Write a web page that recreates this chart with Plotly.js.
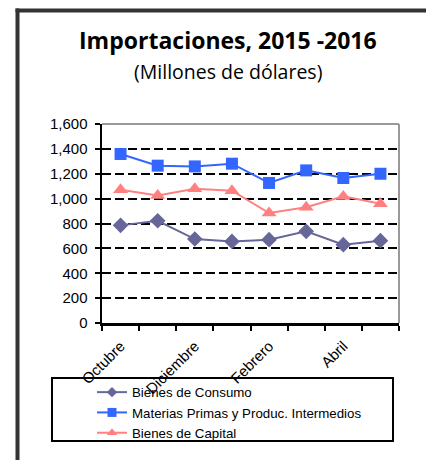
<!DOCTYPE html>
<html>
<head>
<meta charset="utf-8">
<script src="https://cdn.plot.ly/plotly-3.0.1.min.js"></script>
<style>html,body{margin:0;padding:0;background:#fff;}#chart{width:426px;height:460px;}</style>
</head>
<body>
<div id="chart"></div>
<script>
var months = ["Octubre","Noviembre","Diciembre","Enero","Febrero","Marzo","Abril","Mayo"];
var tickLabels = ["Octubre","","Diciembre","","Febrero","","Abril",""];
var bienesConsumo = [785, 822, 675, 656, 670, 737, 630, 662];
var materiasPrimas = [1359, 1265, 1259, 1281, 1126, 1227, 1166, 1200];
var bienesCapital = [1072, 1026, 1080, 1064, 884, 930, 1018, 959];
var seriesNames = ["Bienes de Consumo","Materias Primas y Produc. Intermedios","Bienes de Capital"];
var yTicks = [0,200,400,600,800,1000,1200,1400,1600];

var W = 426, H = 460, L = 102, R = 27, T = 124, B = 137;
var pw = W - L - R, ph = H - T - B;
function px(x){ return (x - L) / pw; }
function py(y){ return (H - B - y) / ph; }

var colors = ["#666699", "#3366FF", "#FF8080"];
var symbols = ["diamond", "square", "triangle-up"];
var sizes = [12, 12, 13];
var legendSizes = [8, 9, 9];
var values = [bienesConsumo, materiasPrimas, bienesCapital];

var traces = [];
for (var i = 0; i < 3; i++) {
  traces.push({x: months, y: values[i], name: seriesNames[i], type: "scatter", mode: "lines+markers",
    showlegend: false, line: {color: colors[i], width: 2},
    marker: {symbol: symbols[i], size: sizes[i], color: colors[i]}});
}
for (var j = 0; j < 3; j++) {
  traces.push({x: [null], y: [null], name: seriesNames[j], type: "scatter", mode: "lines+markers",
    showlegend: true, line: {color: colors[j], width: 2},
    marker: {symbol: symbols[j], size: legendSizes[j], color: colors[j]}});
}

var layout = {
  width: W, height: H,
  margin: {l: L, r: R, t: T, b: B, pad: 0},
  paper_bgcolor: "#fff", plot_bgcolor: "#fff",
  showlegend: true,
  font: {family: "Arial, Liberation Sans, sans-serif", size: 13, color: "#000"},
  xaxis: {
    type: "category", tickmode: "array", tickvals: months, ticktext: tickLabels,
    tickangle: -45, ticks: "outside", ticklen: 5, tickwidth: 2, tickcolor: "#000",
    tickson: "boundaries", showgrid: false, showline: true, linecolor: "#000", linewidth: 2.5,
    zeroline: false, range: [-0.5, 7.5], fixedrange: true, ticklabelstandoff: 6,
    tickfont: {family: "Arial, Liberation Sans, sans-serif", size: 15, color: "#000"}
  },
  yaxis: {
    range: [0, 1600], tickmode: "array", tickvals: yTicks, tickformat: ",",
    ticks: "outside", ticklen: 5, tickwidth: 2, tickcolor: "#000", ticklabelstandoff: 4,
    showline: true, linecolor: "#000", linewidth: 2.5, zeroline: false,
    showgrid: true, gridcolor: "#000", gridwidth: 2, griddash: "9px,4px",
    tickfont: {family: "Arial, Liberation Sans, sans-serif", size: 15, color: "#000"}
  },
  legend: {
    x: px(92), y: py(377), xanchor: "left", yanchor: "top",
    bgcolor: "rgba(0,0,0,0)", borderwidth: 0, tracegroupgap: 0,
    font: {family: "Arial, Liberation Sans, sans-serif", size: 13.3, color: "#000"}
  },
  annotations: [
    {xref: "paper", yref: "paper", x: px(228), y: py(40), xanchor: "center", yanchor: "middle",
     text: "<b>Importaciones, 2015 -2016</b>", showarrow: false,
     font: {family: "Open Sans, Lato, sans-serif", size: 23, color: "#000"}},
    {xref: "paper", yref: "paper", x: px(228), y: py(71), xanchor: "center", yanchor: "middle",
     text: "(Millones de dólares)", showarrow: false,
     font: {family: "Open Sans, Lato, sans-serif", size: 19.5, color: "#000"}}
  ],
  shapes: [
    {type: "line", xref: "paper", yref: "paper", x0: px(15.5), x1: px(426), y0: py(10.5), y1: py(10.5),
     line: {color: "#333", width: 4}},
    {type: "line", xref: "paper", yref: "paper", x0: px(17.5), x1: px(17.5), y0: py(8.5), y1: py(460),
     line: {color: "#333", width: 4}},
    {type: "line", xref: "paper", yref: "paper", x0: 0, x1: 1, y0: 1, y1: 1,
     line: {color: "#999", width: 2}, layer: "below"},
    {type: "line", xref: "paper", yref: "paper", x0: 1, x1: 1, y0: 0, y1: 1,
     line: {color: "#999", width: 2}},
    {type: "rect", xref: "paper", yref: "paper", x0: px(52), x1: px(393), y0: py(378), y1: py(441),
     line: {color: "#000", width: 2}, fillcolor: "rgba(0,0,0,0)"}
  ]
};

Plotly.newPlot("chart", traces, layout, {displayModeBar: false, staticPlot: true});
</script>
</body>
</html>
